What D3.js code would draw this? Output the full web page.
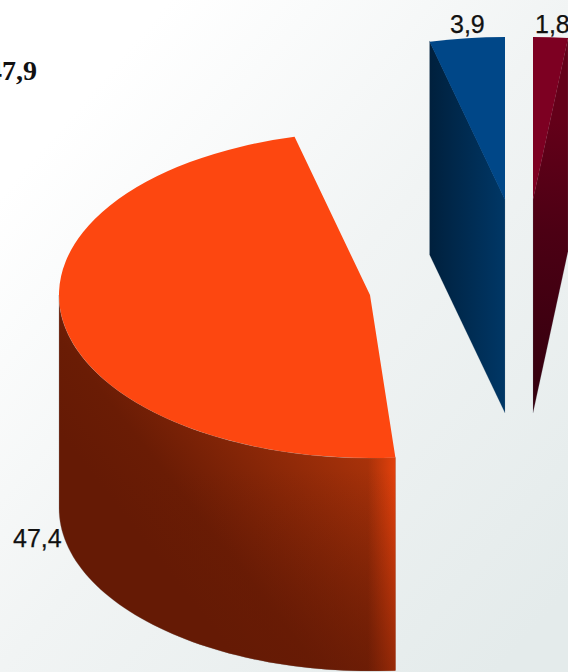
<!DOCTYPE html>
<html>
<head>
<meta charset="utf-8">
<script src="https://cdn.jsdelivr.net/npm/d3@7"></script>
<style>
  html, body { margin: 0; padding: 0; overflow: hidden; }
</style>
</head>
<body>
<div id="chart"></div>
<script>
// values as printed on the chart, in percent
const shareOrange = [47.4]
const shareBlue = [3.9]
const shareCrimson = [1.8]
const shareHidden = [47.9] // only its label is in view

const width = 568
const height = 672
const rx = 311
const ry = 163
const depth = 213

const fmt = v => String(v).replace('.', ',')
const angle = d3.scaleLinear().domain([0, 100]).range([0, 2 * Math.PI])

const svg = d3.select('#chart').append('svg')
  .attr('width', width)
  .attr('height', height)
  .style('display', 'block')

const defs = svg.append('defs')

function gradient(id, x1, y1, x2, y2, stops) {
  const g = defs.append('linearGradient')
    .attr('id', id)
    .attr('gradientUnits', 'userSpaceOnUse')
    .attr('x1', x1).attr('y1', y1)
    .attr('x2', x2).attr('y2', y2)
  stops.forEach(s => g.append('stop')
    .attr('offset', s[0])
    .attr('stop-color', s[1])
    .attr('stop-opacity', s[2] === undefined ? 1 : s[2]))
}

gradient('bg', 40, 150, 560, 600, [[0, '#ffffff'], [0.45, '#f1f4f4'], [1, '#e4ebeb']])
gradient('wallOrange', 190, 600, 375, 455, [[0, '#651a05'], [0.25, '#6a1c05'], [1, '#ab330a']])
gradient('edgeOrange', 368, 0, 396, 0, [[0, '#e0400c', 0], [1, '#e8420c', 0.95]])
gradient('shadeOrange', 0, 470, 0, 672, [[0, '#651a05', 0], [1, '#651a05', 0.6]])
gradient('wallBlue', 430, 0, 505, 0, [[0, '#00203d'], [1, '#003766']])
gradient('wallCrimson', 533, 400, 570, 120, [[0, '#34000e'], [0.6, '#4c0014'], [1, '#640019']])

svg.append('rect')
  .attr('width', width)
  .attr('height', height)
  .attr('fill', 'url(#bg)')

const px = (a, c) => c.x + rx * Math.sin(a)
const py = (a, c) => c.y - ry * Math.cos(a)

const arc = d3.arc().innerRadius(0).outerRadius(rx)
const line = d3.line()

function topFace(a0, a1, c, color) {
  svg.append('path')
    .attr('transform', `translate(${c.x},${c.y}) scale(1,${ry / rx})`)
    .attr('d', arc({ startAngle: a0, endAngle: a1 }))
    .attr('fill', color)
}

// outer rim wall between two angles
function rimWall(a0, a1, c, fill) {
  const area = d3.area()
    .x(a => px(a, c))
    .y0(a => py(a, c))
    .y1(a => py(a, c) + depth)
  const steps = d3.range(0, 61).map(i => a0 + (a1 - a0) * i / 60)
  return svg.append('path')
    .attr('d', area(steps))
    .attr('fill', fill)
}

// flat wall running from the rim at angle a to the apex of the slice,
// pulled a little under the top face so no seam shows
function cutWall(a, c, fill) {
  const pts = [
    [px(a, c), py(a, c) - 1],
    [c.x, c.y - 1],
    [c.x, c.y + depth],
    [px(a, c), py(a, c) + depth]
  ]
  svg.append('path')
    .attr('d', line(pts) + 'Z')
    .attr('fill', fill)
    .attr('stroke', '#8c9aa8')
    .attr('stroke-opacity', 0.35)
    .attr('stroke-width', 0.5)
}

const centreOrange = { x: 370, y: 295 }
const centreBlue = { x: 505, y: 200 }
const centreCrimson = { x: 533, y: 200 }

const blueEnd = angle(100)
const blueStart = angle(100 - shareBlue[0])
const orangeStart = angle(100 - shareBlue[0] - shareOrange[0])

// orange
rimWall(orangeStart, angle(75), centreOrange, 'url(#wallOrange)')
  .attr('stroke', '#8c8c8c')
  .attr('stroke-opacity', 0.5)
  .attr('stroke-width', 0.6)
rimWall(orangeStart, angle(75), centreOrange, 'url(#edgeOrange)')
rimWall(orangeStart, angle(75), centreOrange, 'url(#shadeOrange)')
topFace(orangeStart, blueStart, centreOrange, '#fd4710')

// blue
cutWall(blueStart, centreBlue, 'url(#wallBlue)')
topFace(blueStart, blueEnd, centreBlue, '#004788')

// crimson
cutWall(angle(shareCrimson[0]), centreCrimson, 'url(#wallCrimson)')
topFace(0, angle(shareCrimson[0]), centreCrimson, '#7d0022')

const label = (v, x, y) => svg.append('text')
  .attr('x', x)
  .attr('y', y)
  .attr('font-family', 'Liberation Sans')
  .attr('font-size', 25)
  .attr('fill', '#111')
  .attr('stroke', '#111')
  .attr('stroke-width', 0.25)
  .text(fmt(v))

label(shareBlue[0], 450, 33)
label(shareCrimson[0], 535, 33)
label(shareOrange[0], 13, 547)

svg.append('text')
  .attr('x', -12)
  .attr('y', 80)
  .attr('font-family', 'Liberation Serif')
  .attr('font-weight', 'bold')
  .attr('font-size', 28)
  .attr('fill', '#111')
  .text(fmt(shareHidden[0]))
</script>
</body>
</html>
